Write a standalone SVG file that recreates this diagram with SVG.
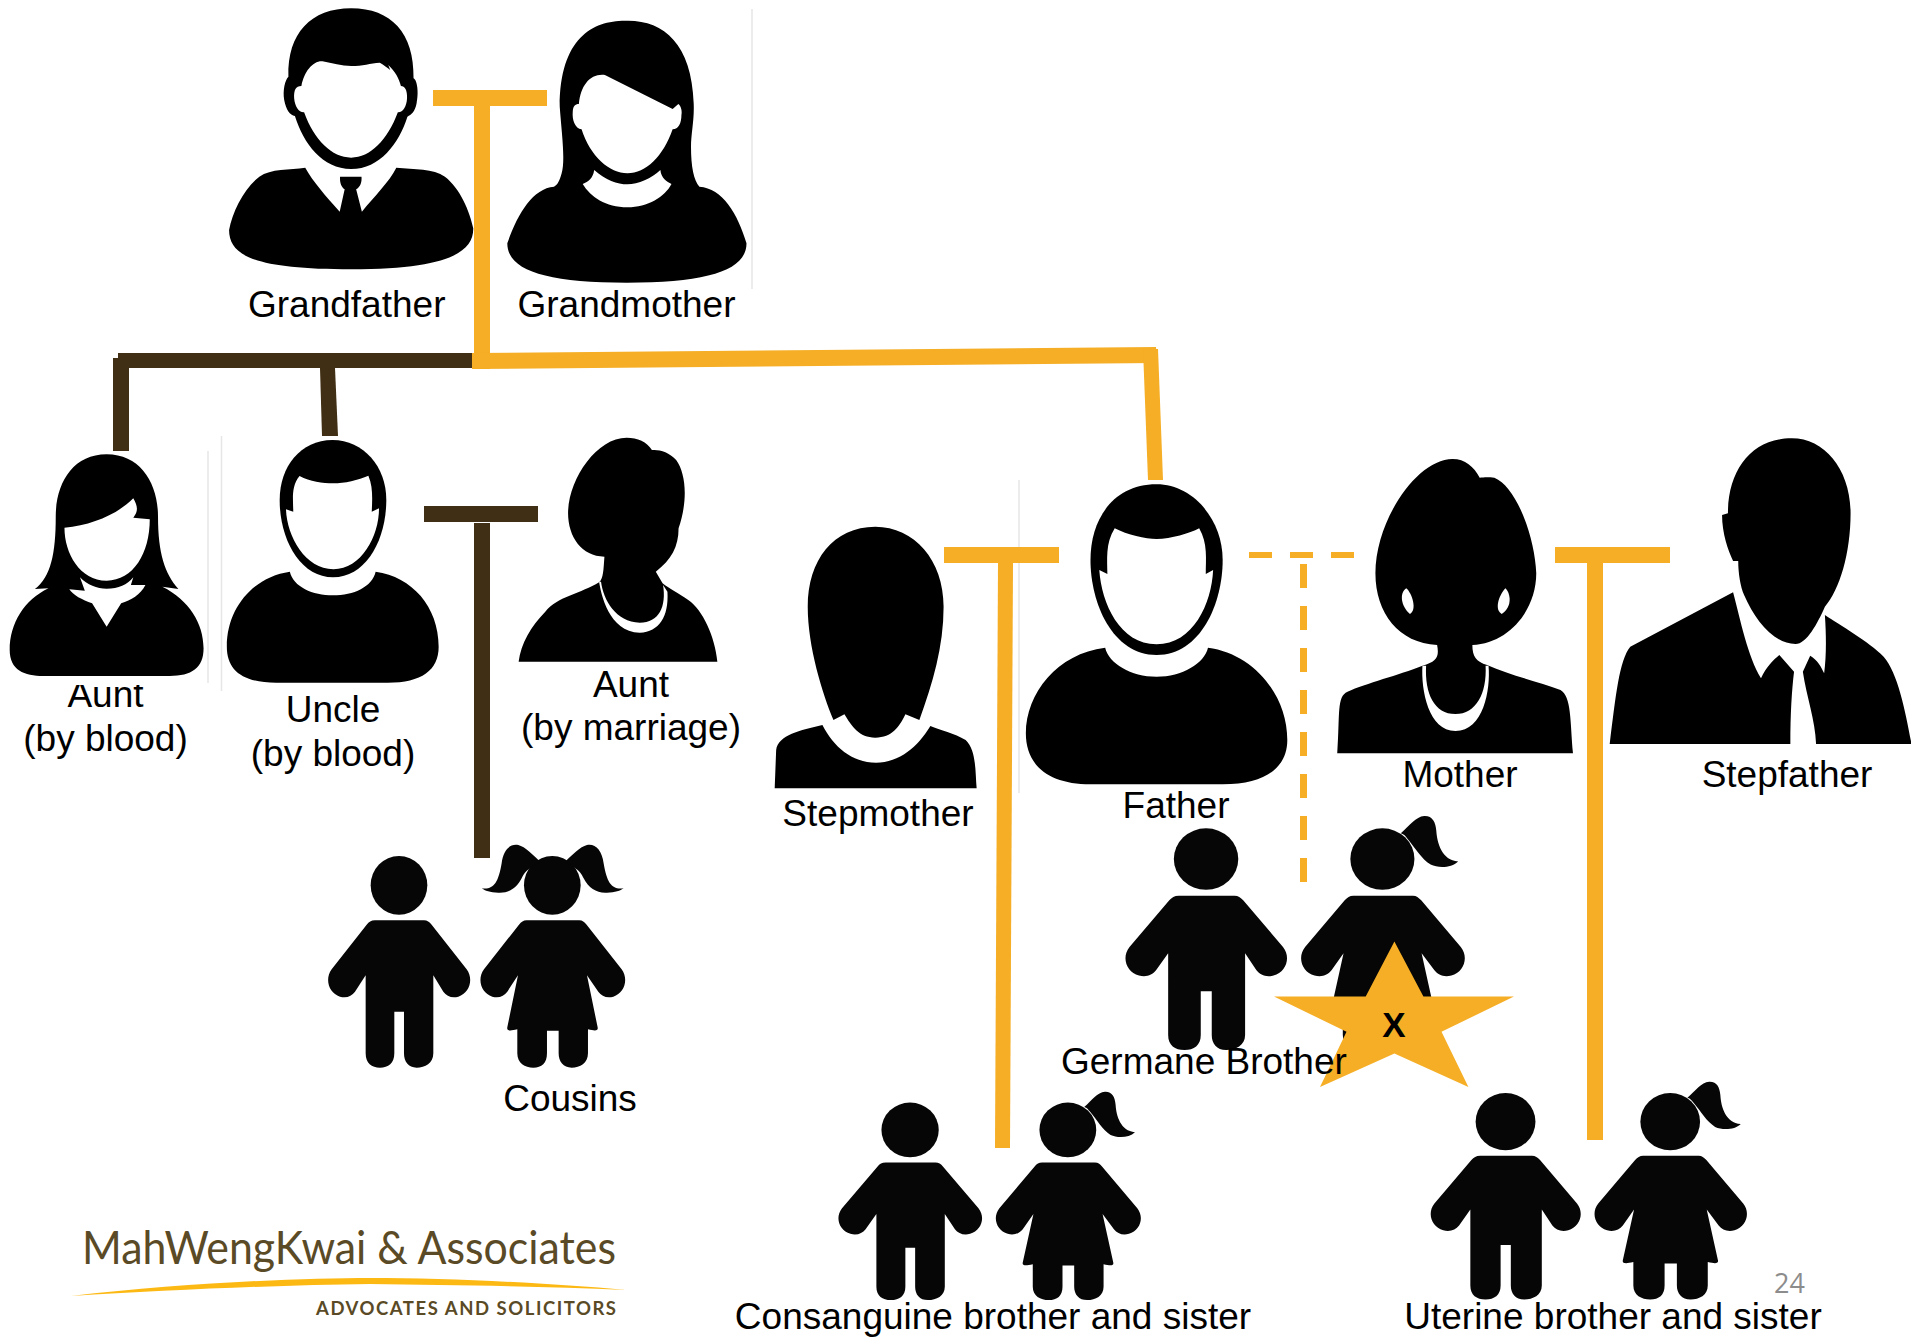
<svg xmlns="http://www.w3.org/2000/svg" width="1911" height="1340" viewBox="0 0 1911 1340">
<style>
text{font-family:"Liberation Sans",Arial,sans-serif;font-size:37px;fill:#000}
.c{text-anchor:middle}
.k{fill:#000}
.w{fill:#fff}
.ki{fill:#060606}
.gold{fill:#F5AE25}
.dark{fill:#402F14}
.hair{stroke:#E6E6E6;stroke-width:1.5;fill:none}
.logo{font-family:Lato,"Open Sans",sans-serif;fill:#5A4A26}
</style>
<defs>
<g id="boy" class="ki">
<ellipse cx="297" cy="196" rx="85" ry="88"/>
<path d="M225 301L372 301C382 301 388 306 395 314L500 448C522 478 508 520 475 530C455 536 440 528 430 515L400 466L400 700C400 730 375 743 350 743C325 743 312 725 312 700L312 575L283 575L283 700C283 730 265 743 240 743C215 743 197 730 197 700L197 466L165 515C155 528 140 536 120 530C87 520 73 478 95 448L200 314C207 306 213 301 225 301Z"/>
</g>
<g id="girlBody" class="ki">
<ellipse cx="757" cy="196" rx="85" ry="88"/>
<path d="M680 301L838 301C848 301 852 306 860 314L965 448C987 478 973 520 940 530C920 536 905 528 895 515L861 466L893 622C895 632 888 634 864 628L864 700C864 730 840 743 815 743C790 743 776 725 776 700L776 632L741 632L741 700C741 730 725 743 700 743C675 743 652 730 652 700L652 628C628 634 620 632 622 622L654 466L622 515C612 528 597 536 577 530C544 520 530 478 552 448L657 314C664 306 670 301 680 301Z"/>
</g>
<g id="girlTail">
<use href="#girlBody"/>
<path class="ki" d="M806 122C830 100 845 75 868 73C890 72 898 90 900 115C902 150 915 200 958 203C940 222 905 222 885 212C860 195 845 165 823 137C818 130 815 125 806 122Z"/>
</g>
</defs>
<rect width="1911" height="1340" fill="#fff"/>
<g id="faint-rules">
<path class="hair" d="M752 9V289M208 451V683M221.500 436V691M1019 480V793"/>
</g>
<g id="connectors">
<rect class="dark" x="118" y="353" width="356" height="15"/>
<polygon class="dark" points="113,358 129,358 129,451 113,451"/>
<polygon class="dark" points="320,368 335,368 338,436 322,436"/>
<rect class="dark" x="424" y="506" width="114" height="16"/>
<rect class="dark" x="474" y="523" width="16" height="335"/>
<rect class="gold" x="433" y="90" width="114" height="16"/>
<rect class="gold" x="474" y="106" width="16" height="263"/>
<polygon class="gold" points="472,353 1156,347 1157,363 472,369"/>
<polygon class="gold" points="1143,349 1158,349 1163,480 1148,480"/>
<rect class="gold" x="944" y="547" width="115" height="16"/>
<polygon class="gold" points="998,563 1013,563 1010,1148 995,1148"/>
<rect class="gold" x="1555" y="547" width="115" height="16"/>
<rect class="gold" x="1587" y="563" width="16" height="577"/>
<path d="M1249 555H1357" stroke="#F5AE25" stroke-width="6" stroke-dasharray="23 18" fill="none"/>
<path d="M1303.500 564V884" stroke="#F5AE25" stroke-width="7" stroke-dasharray="24 18" fill="none"/>
</g>
<g id="grandfather">
<g transform="translate(200 0) scale(.3827 .3333)">
<path class="k" d="M231 230C228 100 290 25 395 25C500 25 560 100 558 235C568 240 572 280 566 310C562 335 552 345 542 350C520 430 470 507 395 507C320 507 270 430 248 348C235 345 225 330 220 300C216 270 222 240 231 230Z"/>
<path class="w" d="M265 258C272 215 295 182 320 184C345 190 370 198 395 198C425 198 445 190 470 188C480 195 490 203 497 210L492 195C510 215 520 235 525 258C535 258 542 270 541 295C540 320 530 338 517 337C490 420 445 473 395 473C345 473 298 420 272 337C258 338 248 320 246 295C245 270 250 258 265 258Z"/>
<path class="k" d="M275 503C295 545 330 590 365 635L378 568C368 560 365 545 366 530L422 530C423 545 420 560 408 568L423 635C455 590 495 545 513 503C560 508 610 505 640 530C680 565 705 635 714 685C715 760 640 808 395 808C150 808 76 770 76 690C85 635 115 565 155 530C185 505 235 510 275 503Z"/>
</g>
<text x="248" y="317">Grandfather</text>
</g>
<g id="grandmother">
<g transform="translate(200 0) scale(.3827 .3333)">
<path class="k" d="M1115 62C1030 60 940 110 940 320C945 400 955 480 945 520C940 540 935 555 925 560C870 565 830 640 803 730C803 810 900 848 1115 848C1330 848 1428 810 1428 730C1405 640 1365 565 1305 560C1290 540 1283 500 1283 440C1283 400 1292 360 1290 310C1285 130 1210 60 1115 62Z"/>
<path class="w" d="M1000 552C1015 545 1027 535 1030 510C1060 540 1090 553 1117 553C1145 553 1180 535 1203 510C1205 535 1220 545 1232 552C1215 590 1170 622 1117 622C1060 622 1020 590 1000 552Z"/>
<path class="w" d="M990 312C995 255 1020 220 1058 225L1235 327L1250 312C1258 320 1260 335 1258 345C1258 370 1250 388 1235 388C1210 470 1165 520 1117 520C1070 520 1020 470 997 388C980 385 972 360 974 335C975 318 980 312 990 312Z"/>
</g>
<text x="517.500" y="317">Grandmother</text>
</g>
<g id="aunt-blood">
<text class="c" x="105.500" y="707">Aunt</text>
<text class="c" x="105.500" y="751">(by blood)</text>
<rect class="w" x="50" y="676" width="110" height="9"/>
<g transform="translate(0 340) scale(.4847 .3333)">
<path class="k" d="M220 343C150 343 115 430 115 530C115 640 105 710 72 747L100 745C50 780 20 850 20 930C20 990 50 1008 90 1008L350 1008C395 1008 420 985 420 925C420 850 390 780 335 740L368 747C340 700 326 640 326 530C326 430 290 343 220 343Z"/>
<path class="w" d="M133 563C190 555 240 525 275 475C285 500 285 515 275 533L309 538C309 640 275 722 220 722C165 722 133 640 133 563Z"/>
<path class="w" d="M165 712C180 735 200 746 220 746C245 746 262 735 275 712L270 735L300 735C290 765 270 780 250 790L220 860L190 790C170 780 150 765 143 748L175 752Z"/>
</g>
</g>
<g id="uncle-blood">
<g transform="translate(0 340) scale(.4847 .3333)">
<path class="k" d="M686 300C620 300 577 380 577 480C577 600 620 712 687 712C755 712 797 600 797 480C797 380 750 300 686 300Z"/>
<path class="w" d="M618 408C640 425 665 430 688 430C710 430 740 420 760 407C770 440 768 480 767 515L782 505C782 590 745 688 688 688C630 688 592 590 590 508L605 515C605 480 600 440 618 408Z"/>
<path class="k" d="M598 695C605 740 645 766 687 766C730 766 768 740 775 695C850 710 905 800 905 920C905 990 870 1028 800 1028L570 1028C500 1028 468 990 468 920C468 800 525 710 598 695Z"/>
</g>
<text class="c" x="333" y="722">Uncle</text>
<text class="c" x="333" y="766">(by blood)</text>
</g>
<g id="aunt-marriage">
<g transform="translate(0 340) scale(.4847 .3333)">
<path class="k" d="M1293 293C1230 293 1172 420 1172 520C1172 590 1200 650 1247 650C1245 690 1245 715 1236 727C1200 760 1150 770 1125 815C1095 860 1075 910 1070 965L1480 965C1475 890 1450 810 1420 780C1400 760 1380 745 1367 730L1353 695C1385 660 1400 620 1400 565C1420 480 1415 400 1395 360C1380 335 1360 328 1345 330C1335 305 1315 293 1293 293Z"/>
<path class="w" d="M1236 725C1240 760 1255 875 1320 878C1360 875 1380 830 1377 755L1368 735C1375 800 1360 848 1320 848C1270 845 1245 780 1240 725Z"/>
</g>
<text class="c" x="631" y="697">Aunt</text>
<text class="c" x="631" y="740">(by marriage)</text>
</g>
<g id="stepmother">
<g transform="translate(760 430) scale(.7344 .3333)">
<path class="k" d="M157 290C100 290 65 390 65 530C65 650 85 790 100 870L115 853C125 890 135 923 157 923C180 923 190 890 198 853L217 870C235 760 250 650 250 530C250 390 210 290 157 290Z"/>
<path class="k" d="M85 885C55 900 25 915 22 960L20 1075L295 1075C293 1030 295 960 280 930C265 910 245 900 232 888C215 950 190 998 158 998C125 998 100 950 85 885Z"/>
</g>
<text class="c" x="878" y="826">Stepmother</text>
</g>
<g id="father">
<g transform="translate(760 430) scale(.7344 .3333)">
<path class="k" d="M540 163C480 163 450 270 450 390C450 520 480 675 540 675C600 675 630 520 630 390C630 270 590 163 540 163Z"/>
<path class="w" d="M483 295C500 315 525 327 540 327C560 327 585 310 598 295C610 340 607 390 607 432L617 420C615 520 590 643 540 643C490 643 465 520 462 420L473 432C473 390 470 340 483 295Z"/>
<path class="k" d="M470 653C475 700 505 740 540 740C575 740 605 700 610 653C670 670 718 790 718 930C718 1010 690 1063 630 1063L450 1063C395 1063 362 1010 362 910C362 790 405 670 470 653Z"/>
</g>
<text class="c" x="1176" y="818">Father</text>
</g>
<g id="mother">
<g transform="translate(760 430) scale(.7344 .3333)">
<path class="k" d="M943 87C895 87 838 270 838 430C838 550 870 640 922 645C925 680 922 695 902 707C870 735 825 760 800 785C785 800 790 850 786 970L1107 970C1103 870 1105 800 1090 780C1060 755 1020 735 990 705C975 695 970 680 970 645C1020 640 1057 540 1057 430C1055 320 1030 170 1000 143C990 140 985 142 980 143C972 110 960 87 943 87Z"/>
<path class="w" d="M880 475C870 490 873 530 885 552C895 540 888 490 880 475Z"/>
<path class="w" d="M1015 475C1022 490 1025 530 1010 552C1000 540 1005 500 1015 475Z"/>
<path class="w" d="M902 707C900 780 910 902 947 903C985 902 995 780 992 707L988 707C990 790 975 852 947 852C918 852 905 790 907 707Z"/>
</g>
<text class="c" x="1460" y="787">Mother</text>
</g>
<g id="stepfather">
<g transform="translate(760 430) scale(.7344 .3333)">
<path class="k" d="M1405 25C1350 25 1318 120 1318 250L1310 255C1310 310 1318 360 1325 393L1332 393C1332 430 1335 470 1340 495C1355 570 1380 642 1410 642C1425 642 1440 580 1450 530C1470 480 1485 370 1485 250C1485 120 1450 25 1405 25Z"/>
<path class="k" d="M1325 487L1185 650C1170 690 1165 800 1157 942L1403 942C1403 850 1405 780 1408 725L1388 675C1380 690 1370 710 1363 745C1345 680 1335 570 1325 487Z"/>
<path class="k" d="M1450 555C1452 620 1452 680 1449 730C1445 710 1440 690 1430 677L1420 725C1425 800 1437 870 1438 942L1568 942C1560 850 1550 730 1530 680C1510 635 1470 585 1450 555Z"/>
</g>
<text class="c" x="1787" y="787">Stepfather</text>
</g>
<g id="cousins">
<g transform="translate(300 820) scale(.3333)">
<use href="#boy"/>
<use href="#girlBody"/>
<path class="ki" d="M545 205C580 210 595 190 605 130C610 90 630 70 655 75C675 80 700 105 720 125L690 145C675 155 670 165 665 175C650 205 625 220 595 218C570 218 555 212 545 205Z"/>
<path class="ki" d="M971 205C936 210 921 190 911 130C906 90 886 70 861 75C841 80 816 105 796 125L826 145C841 155 846 165 851 175C866 205 891 220 921 218C946 218 961 212 971 205Z"/>
</g>
<text class="c" x="570" y="1111">Cousins</text>
</g>
<g id="germane-siblings">
<use href="#boy" transform="translate(1093.500 790.600) scale(.379 .349)"/>
<use href="#girlTail" transform="translate(1097 790.600) scale(.377 .349)"/>
</g>
<g id="excluded-star">
<polygon class="gold" points="1394.400,941.400 1423.400,996.600 1514,996.600 1441.500,1031.700 1468.400,1087 1394.400,1053.400 1320,1087 1346.500,1031.700 1274,996.600 1365.700,996.600"/>
<text class="c" x="1394" y="1037" font-weight="700" style="font-size:35px">X</text>
</g>
<text id="germane-label" x="1061" y="1074">Germane Brother</text>
<g id="consanguine-siblings">
<use href="#boy" transform="translate(810 1069) scale(.337 .311)"/>
<use href="#girlTail" transform="translate(815 1069) scale(.334 .311)"/>
<text class="c" x="993" y="1329">Consanguine brother and sister</text>
</g>
<g id="uterine-siblings">
<use href="#boy" transform="translate(1401 1058) scale(.352 .325)"/>
<use href="#girlTail" transform="translate(1404.500 1058) scale(.351 .325)"/>
<text class="c" x="1613" y="1329">Uterine brother and sister</text>
</g>
<g id="logo">
<text class="logo" x="82" y="1264" textLength="534" lengthAdjust="spacingAndGlyphs" style="font-size:46px">MahWengKwai &amp; Associates</text>
<path fill="#FDB913" d="M71 1296C180 1283 300 1278 370 1278C450 1278 550 1283 626 1290C540 1286 450 1285 370 1284C280 1285 170 1290 71 1296Z"/>
<text class="logo" x="316" y="1315" textLength="300" font-weight="700" style="font-size:18.500px">ADVOCATES AND SOLICITORS</text>
</g>
<text id="page-number" x="1774" y="1293" style="font-family:'Open Sans',sans-serif;font-size:27px;fill:#8C8C8C">24</text>
</svg>
